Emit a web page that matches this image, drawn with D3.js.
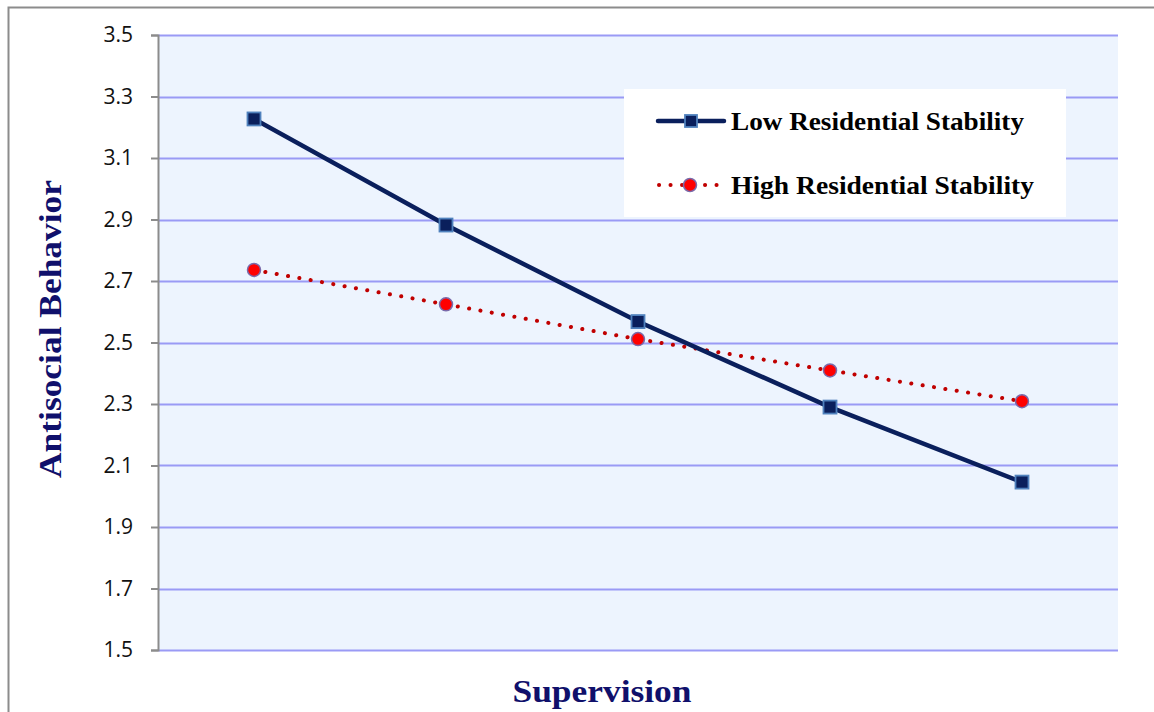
<!DOCTYPE html>
<html>
<head>
<meta charset="utf-8">
<script src="https://cdn.jsdelivr.net/npm/d3@7"></script>
<style>
  html, body { margin: 0; padding: 0; background: #fff; }
  svg { display: block; }
  .y-axis .tick text { font-family: 'Open Sans', sans-serif; font-size: 21px; }
</style>
</head>
<body>
<svg id="chart" width="1154" height="712"></svg>
<script>
// Supervision levels (x categories) and mean antisocial behaviour per group
const supervisionLevels = ["1", "2", "3", "4", "5"];
const lowStability = [3.227, 2.882, 2.568, 2.290, 2.046];
const highStability = [2.736, 2.624, 2.511, 2.409, 2.309];
const yTicks = [1.5, 1.7, 1.9, 2.1, 2.3, 2.5, 2.7, 2.9, 3.1, 3.3, 3.5];
const seriesNames = ["Low Residential Stability", "High Residential Stability"];

const svg = d3.select("#chart");
const plot = { left: 158, right: 1118, top: 35, bottom: 650 };
const serif = "'Liberation Serif', serif";

// Outer chart frame
svg.append("path")
  .attr("d", "M8.5,712 L8.5,7.5 L1154,7.5")
  .attr("fill", "none")
  .attr("stroke", "#8c8c8c")
  .attr("stroke-width", 2);

const x = d3.scaleBand()
  .domain(supervisionLevels)
  .range([plot.left, plot.right]);

const y = d3.scaleLinear()
  .domain([1.5, 3.5])
  .range([plot.bottom, plot.top]);

// Plot background
svg.append("rect")
  .attr("x", plot.left).attr("y", plot.top)
  .attr("width", plot.right - plot.left)
  .attr("height", plot.bottom - plot.top)
  .attr("fill", "#edf4fe");

// Horizontal gridlines
svg.append("g")
  .selectAll("line")
  .data(yTicks)
  .join("line")
  .attr("x1", plot.left).attr("x2", plot.right)
  .attr("y1", d => Math.round(y(d)) + 0.5)
  .attr("y2", d => Math.round(y(d)) + 0.5)
  .attr("stroke", "#9a9af5")
  .attr("stroke-width", 2);

// Y axis
const yAxis = svg.append("g")
  .attr("class", "y-axis")
  .attr("transform", `translate(${plot.left},0)`)
  .call(d3.axisLeft(y).tickValues(yTicks).tickFormat(d3.format(".1f")).tickSize(7).tickPadding(18));
yAxis.attr("font-size", null).attr("font-family", null);
yAxis.select(".domain").attr("stroke", "#8c8c8c").attr("stroke-width", 2);
yAxis.selectAll(".tick line").attr("stroke", "#8c8c8c").attr("stroke-width", 2);
yAxis.selectAll(".tick text").attr("fill", "#111");

const line = d3.line()
  .x((d, i) => x(supervisionLevels[i]) + x.bandwidth() / 2)
  .y(d => y(d));

// High residential stability: dotted red line with circle markers
svg.append("path")
  .datum(highStability)
  .attr("d", line)
  .attr("fill", "none")
  .attr("stroke", "#c00000")
  .attr("stroke-width", 4)
  .attr("stroke-linecap", "round")
  .attr("stroke-dasharray", "0.1 11.4");

// Low residential stability: solid navy line
svg.append("path")
  .datum(lowStability)
  .attr("d", line)
  .attr("fill", "none")
  .attr("stroke", "#0a1f5c")
  .attr("stroke-width", 4.5);

svg.append("g")
  .selectAll("circle")
  .data(highStability)
  .join("circle")
  .attr("cx", (d, i) => x(supervisionLevels[i]) + x.bandwidth() / 2)
  .attr("cy", d => y(d))
  .attr("r", 6.5)
  .attr("fill", "#ff0000")
  .attr("stroke", "#7a6aaa")
  .attr("stroke-width", 1.5);

svg.append("g")
  .selectAll("rect")
  .data(lowStability)
  .join("rect")
  .attr("x", (d, i) => x(supervisionLevels[i]) + x.bandwidth() / 2 - 6.5)
  .attr("y", d => y(d) - 6.5)
  .attr("width", 13).attr("height", 13)
  .attr("fill", "#0a1f5c")
  .attr("stroke", "#4f81bd")
  .attr("stroke-width", 1.8);

// Legend
const legend = svg.append("g").attr("transform", "translate(624,89)");
legend.append("rect")
  .attr("width", 442).attr("height", 128)
  .attr("fill", "#ffffff");

// Legend row: low stability
legend.append("line")
  .attr("x1", 34).attr("x2", 100).attr("y1", 32).attr("y2", 32)
  .attr("stroke", "#0a1f5c").attr("stroke-width", 4.5).attr("stroke-linecap", "round");
legend.append("rect")
  .attr("x", 61).attr("y", 26).attr("width", 12).attr("height", 12)
  .attr("fill", "#0a1f5c").attr("stroke", "#4f81bd").attr("stroke-width", 1.8);
legend.append("text")
  .attr("x", 107).attr("y", 41)
  .attr("font-family", serif)
  .attr("font-weight", "bold")
  .attr("font-size", 25)
  .attr("textLength", 293)
  .attr("lengthAdjust", "spacingAndGlyphs")
  .attr("fill", "#000")
  .text(seriesNames[0]);

// Legend row: high stability
legend.append("line")
  .attr("x1", 35).attr("x2", 100).attr("y1", 96).attr("y2", 96)
  .attr("stroke", "#c00000").attr("stroke-width", 4).attr("stroke-linecap", "round")
  .attr("stroke-dasharray", "0.1 11.4");
legend.append("circle")
  .attr("cx", 66).attr("cy", 96).attr("r", 6.5)
  .attr("fill", "#ff0000").attr("stroke", "#7a6aaa").attr("stroke-width", 1.5);
legend.append("text")
  .attr("x", 107).attr("y", 105)
  .attr("font-family", serif)
  .attr("font-weight", "bold")
  .attr("font-size", 25)
  .attr("textLength", 303)
  .attr("lengthAdjust", "spacingAndGlyphs")
  .attr("fill", "#000")
  .text(seriesNames[1]);

// Axis titles
svg.append("text")
  .attr("x", 602)
  .attr("y", 702)
  .attr("text-anchor", "middle")
  .attr("font-family", serif)
  .attr("font-weight", "bold")
  .attr("font-size", 32)
  .attr("textLength", 179)
  .attr("lengthAdjust", "spacingAndGlyphs")
  .attr("fill", "#10106b")
  .text("Supervision");

svg.append("text")
  .attr("transform", "translate(61,329) rotate(-90)")
  .attr("text-anchor", "middle")
  .attr("font-family", serif)
  .attr("font-weight", "bold")
  .attr("font-size", 32)
  .attr("textLength", 298)
  .attr("lengthAdjust", "spacingAndGlyphs")
  .attr("fill", "#10106b")
  .text("Antisocial Behavior");
</script>
</body>
</html>
